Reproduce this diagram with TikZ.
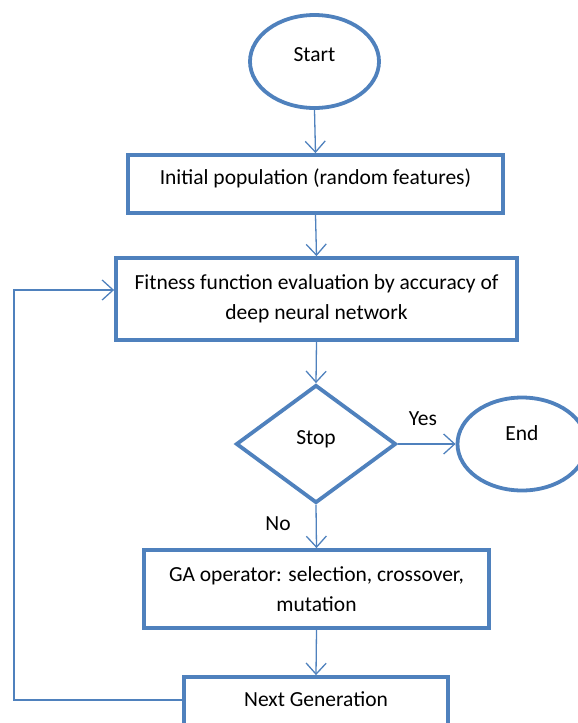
\documentclass[tikz,border=0pt]{standalone}
\usepackage{fontspec}
\setmainfont{Carlito}
\usetikzlibrary{shapes.geometric,arrows.meta}
\definecolor{ofblue}{RGB}{79,129,189}
\tikzset{
  shapeline/.style={draw=ofblue, line width=3.8pt, inner sep=0pt, fill=white,
    font=\fontsize{21.5}{29.5}\selectfont},
  boxnode/.style={shapeline, rectangle},
  oneline/.style={text height=8pt, text depth=8pt},
  ovalnode/.style={shapeline, ellipse, minimum width=129pt, minimum height=93pt},
  decnode/.style={shapeline, diamond, minimum width=160pt, minimum height=118pt, text height=8pt, text depth=8pt},
  flow/.style={draw=ofblue, line width=1.3pt, -{Straight Barb[length=11pt,width=20pt]}},
  lbl/.style={font=\fontsize{21.5}{29.5}\selectfont, inner sep=0pt, text height=8pt, text depth=8pt}
}
\begin{document}
\begin{tikzpicture}[x=1pt,y=-1pt]
\useasboundingbox (0,0) rectangle (578,723);
\clip (0,0) rectangle (578,723);
\node[ovalnode, text height=8pt, text depth=8pt] (start) at (314.5,61.5) {Start};
\node[boxnode, oneline, minimum width=375pt, minimum height=58pt] (init) at (315.5,184) {Initial population (random features)};
\node[boxnode, align=center, minimum width=401pt, minimum height=82pt] (fit) at (316.5,299) {Fitness function evaluation by accuracy of\\deep neural network};
\node[decnode] (stop) at (316,444) {Stop};
\node[ovalnode, text height=8pt, text depth=16pt] (end) at (522,444) {End};
\node[boxnode, align=center, minimum width=345pt, minimum height=78pt] (ga) at (316.5,589) {GA operator: selection, crossover,\\mutation};
\node[boxnode, oneline, minimum width=264pt, minimum height=58pt] (next) at (316,706) {Next Generation};
\node[lbl] (yes) at (423,425) {Yes};
\node[lbl] (no) at (278,530) {No};
\coordinate (lb) at (14,700);
\coordinate (lt) at (14,290);
\draw[flow] (start.south) -- (init.north);
\draw[flow] (init.south) -- (fit.north);
\draw[flow] (fit.south) -- (stop.north);
\draw[flow] (stop.east) -- (end.west);
\draw[flow] (stop.south) -- (ga.north);
\draw[flow] (ga.south) -- (next.north);
\draw[flow] ([yshift=6pt]next.west) -- (lb) -- (lt) -- ([yshift=9pt]fit.west);
\end{tikzpicture}
\end{document}
